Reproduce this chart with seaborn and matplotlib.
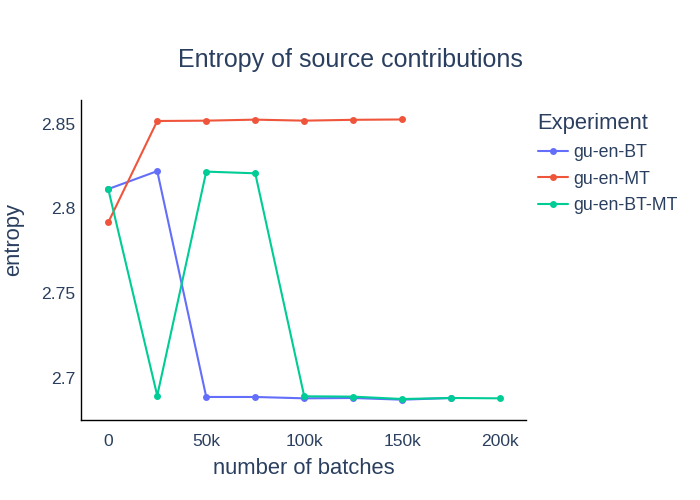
import pandas as pd
import matplotlib
matplotlib.use("Agg")
import matplotlib.pyplot as plt
import seaborn as sns

BATCHES = [0, 25000, 50000, 75000, 100000, 125000, 150000, 175000, 200000]
GU_EN_BT = [2.8114, 2.8220, 2.6886, 2.6886, 2.6878, 2.6880, 2.6870, 2.6880]
GU_EN_MT = [2.7917, 2.8516, 2.8518, 2.8524, 2.8518, 2.8523, 2.8525]
GU_EN_BT_MT = [2.8114, 2.6894, 2.8217, 2.8207, 2.6890, 2.6888, 2.6874, 2.6880, 2.6878]
EXPERIMENTS = ["gu-en-BT", "gu-en-MT", "gu-en-BT-MT"]
COLORS = ["#636efa", "#EF553B", "#00cc96"]
TEXT = "#2a3f5f"

rows = []
for name, vals in zip(EXPERIMENTS, [GU_EN_BT, GU_EN_MT, GU_EN_BT_MT]):
    for b, v in zip(BATCHES, vals):
        rows.append({"number of batches": b, "entropy": v, "Experiment": name})
df = pd.DataFrame(rows)

sns.set_style("white")
plt.rcParams["font.family"] = ["Liberation Sans", "DejaVu Sans"]

fig = plt.figure(figsize=(7, 5), dpi=100)
ax = fig.add_axes([0.116, 0.16, 0.635, 0.64])
sns.lineplot(data=df, x="number of batches", y="entropy", hue="Experiment",
             palette=COLORS, marker="o", markersize=5, markeredgewidth=0,
             linewidth=1.5, ax=ax)

ax.set_xlim(-13800, 213000)
ax.set_ylim(2.675, 2.864)
ax.set_xticks([0, 50000, 100000, 150000, 200000])
ax.set_xticklabels(["0", "50k", "100k", "150k", "200k"])
ax.set_yticks([2.7, 2.75, 2.8, 2.85])
ax.set_yticklabels(["2.7", "2.75", "2.8", "2.85"])
ax.tick_params(length=0, labelsize=12.6, labelcolor=TEXT)
ax.tick_params(axis="x", pad=10)
ax.tick_params(axis="y", pad=4)
for side in ["top", "right"]:
    ax.spines[side].set_visible(False)
for side in ["left", "bottom"]:
    ax.spines[side].set_color("black")
    ax.spines[side].set_linewidth(1)
ax.set_xlabel("")
ax.set_ylabel("")

fig.text(0.5, 0.88, "Entropy of source contributions", ha="center", va="center",
         fontsize=18, color=TEXT)
fig.text(0.434, 0.062, "number of batches", ha="center", va="center",
         fontsize=15.8, color=TEXT)
fig.text(0.02, 0.52, "entropy", ha="center", va="center", rotation=90,
         fontsize=15.8, color=TEXT)

leg = ax.legend(title="Experiment", loc="upper left",
                bbox_to_anchor=(0.768, 0.774), bbox_transform=fig.transFigure,
                frameon=False, fontsize=12.8, title_fontsize=15.8,
                alignment="left", handlelength=1.7, handletextpad=0.3,
                labelspacing=0.55, borderpad=0, borderaxespad=0)
leg.get_title().set_color(TEXT)
for t in leg.get_texts():
    t.set_color(TEXT)

fig.savefig("out.png", dpi=100)
